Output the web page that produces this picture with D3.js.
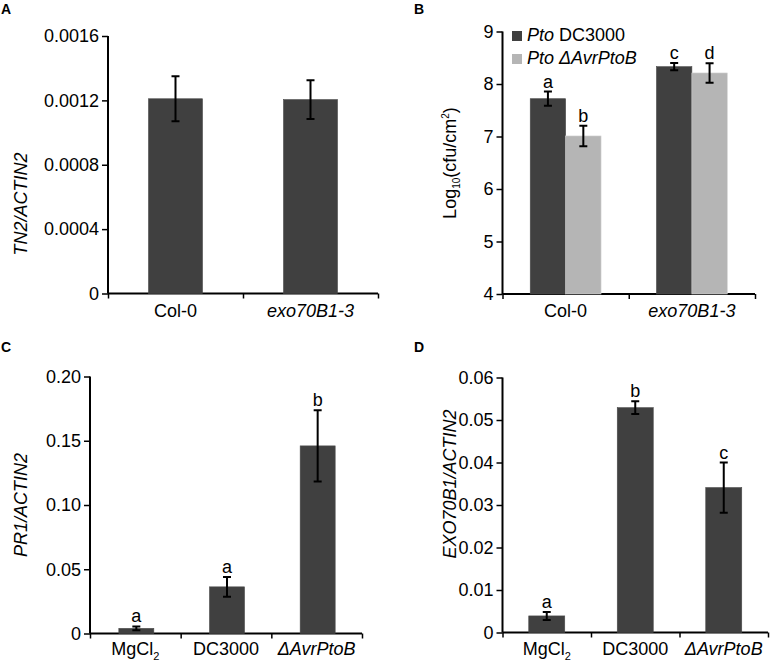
<!DOCTYPE html>
<html><head><meta charset="utf-8">
<script src="https://cdn.jsdelivr.net/npm/d3@7/dist/d3.min.js"></script>
<style>
body{margin:0;background:#fff;}
svg{font-family:"Liberation Sans",Arial,sans-serif;}
</style></head>
<body>
<svg id="c" width="771" height="665"></svg>
<script>
// ---------- DATA ----------
// Panel A
const catsA = ["Col-0", "exo70B1-3"];
const valsA = [0.00121, 0.001205];
const errA  = [0.00014, 0.00012];
const ticksA = [0, 0.0004, 0.0008, 0.0012, 0.0016];
const tickLabelsA = ["0", "0.0004", "0.0008", "0.0012", "0.0016"];
// Panel B
const catsB = ["Col-0", "exo70B1-3"];
const seriesB = ["Pto DC3000", "Pto ΔAvrPtoB"];
const valsB_DC3000 = [7.72, 8.33];
const errB_DC3000  = [0.135, 0.07];
const valsB_dAvr   = [7.01, 8.21];
const errB_dAvr    = [0.195, 0.185];
const lettersB_DC3000 = ["a", "c"];
const lettersB_dAvr   = ["b", "d"];
const ticksB = [4, 5, 6, 7, 8, 9];
// Panel C
const catsC = ["MgCl2", "DC3000", "ΔAvrPtoB"];
const valsC = [0.004, 0.0363, 0.146];
const errC  = [0.0015, 0.0077, 0.0277];
const lettersC = ["a", "a", "b"];
const ticksC = [0, 0.05, 0.10, 0.15, 0.20];
const tickLabelsC = ["0", "0.05", "0.10", "0.15", "0.20"];
// Panel D
const catsD = ["MgCl2", "DC3000", "ΔAvrPtoB"];
const valsD = [0.0039, 0.0529, 0.0341];
const errD  = [0.00095, 0.0015, 0.0059];
const lettersD = ["a", "b", "c"];
const ticksD = [0, 0.01, 0.02, 0.03, 0.04, 0.05, 0.06];
const tickLabelsD = ["0", "0.01", "0.02", "0.03", "0.04", "0.05", "0.06"];

// ---------- DRAWING ----------
const svg = d3.select("#c");
const DARK = "#404040", LIGHT = "#b5b5b5";
const FS = 18;

function catLabel(g, x, y, name) {
  const t = g.append("text").attr("x", x).attr("y", y).attr("text-anchor", "middle")
    .attr("font-size", FS).attr("fill", "#000");
  if (name === "MgCl2") {
    t.append("tspan").text("MgCl");
    t.append("tspan").attr("font-size", 11).attr("dy", 5).text("2");
  } else if (name === "exo70B1-3" || name === "ΔAvrPtoB") {
    t.attr("font-style", "italic").text(name);
  } else t.text(name);
}

function panel(opt) {
  const g = svg.append("g");
  const y = d3.scaleLinear().domain(opt.ydom).range([opt.y0, opt.y1]);
  const x = d3.scaleBand().domain(opt.cats).range([opt.x0, opt.x1]);
  // y axis
  const ya = d3.axisLeft(y).tickValues(opt.ticks).tickSize(6).tickPadding(3)
    .tickFormat((d, i) => opt.tickLabels ? opt.tickLabels[i] : d);
  const yg = g.append("g").attr("transform", `translate(${opt.x0},0)`).call(ya);
  yg.select(".domain").attr("stroke-width", 2).attr("d", `M0,${opt.y1}V${opt.y0}`);
  yg.selectAll(".tick line").attr("stroke-width", 1.5);
  yg.selectAll(".tick text").attr("font-size", FS).attr("font-family", "Liberation Sans, Arial, sans-serif").attr("fill", "#000");
  // x axis with boundary ticks
  const bounds = d3.range(opt.cats.length + 1).map(i => opt.x0 + i * x.step());
  const xl = d3.scaleLinear().domain([opt.x0, opt.x1]).range([opt.x0, opt.x1]);
  const xa = d3.axisBottom(xl).tickValues(bounds).tickSize(5).tickFormat("");
  const xg = g.append("g").attr("transform", `translate(0,${opt.y0})`).call(xa);
  xg.select(".domain").attr("stroke-width", 2).attr("d", `M${opt.x0},0H${opt.x1}`);
  xg.selectAll(".tick line").attr("stroke-width", 1.5);
  opt.cats.forEach(c => catLabel(g, x(c) + x.bandwidth() / 2, opt.labelY, c));
  return {g, x, y};
}

function bars(p, cats, vals, errs, color, xoff, w, letters) {
  const {g, x, y} = p;
  cats.forEach((c, i) => {
    const cx = x(c) + x.bandwidth() / 2 + xoff;
    g.append("rect").attr("x", cx - w / 2).attr("width", w)
      .attr("y", y(vals[i])).attr("height", y.range()[0] - y(vals[i]))
      .attr("fill", color).attr("stroke", d3.color(color).brighter(0.4)).attr("stroke-width", 0.6);
    const hi = y(vals[i] + errs[i]), lo = y(vals[i] - errs[i]);
    g.append("path").attr("d", `M${cx},${hi}V${lo}M${cx - 4},${hi}H${cx + 4}M${cx - 4},${lo}H${cx + 4}`)
      .attr("stroke", "#000").attr("stroke-width", 2).attr("fill", "none");
    if (letters) g.append("text").attr("x", cx).attr("y", hi - 4).attr("text-anchor", "middle")
      .attr("font-size", FS).text(letters[i]);
  });
}

function ylabel(cx, cy, build) {
  const t = svg.append("text").attr("transform", `translate(${cx},${cy}) rotate(-90)`)
    .attr("text-anchor", "middle").attr("font-size", FS).attr("fill", "#000");
  build(t);
}
function panelLetter(x, y, s) {
  svg.append("text").attr("x", x).attr("y", y).attr("font-size", 14).attr("font-weight", "bold").text(s);
}

// Panel A
const pA = panel({cats: catsA, ydom: [0, 0.0016], y0: 293.5, y1: 36, x0: 108, x1: 378,
  ticks: ticksA, tickLabels: tickLabelsA, labelY: 317});
bars(pA, catsA, valsA, errA, DARK, 0, 54, null);
ylabel(27, 204, t => t.attr("font-style", "italic").text("TN2/ACTIN2"));
panelLetter(1, 14, "A");

// Panel B
const pB = panel({cats: catsB, ydom: [4, 9], y0: 294, y1: 31.5, x0: 502.5, x1: 755,
  ticks: ticksB, tickLabels: null, labelY: 317});
bars(pB, catsB, valsB_DC3000, errB_DC3000, DARK, -17.7, 35.4, lettersB_DC3000);
bars(pB, catsB, valsB_dAvr, errB_dAvr, LIGHT, 17.7, 35.4, lettersB_dAvr);
ylabel(456, 163, t => {
  t.append("tspan").text("Log");
  t.append("tspan").attr("font-size", 10).attr("dy", 4).text("10");
  t.append("tspan").attr("dy", -4).text("(cfu/cm");
  t.append("tspan").attr("font-size", 10).attr("dy", -7).text("2");
  t.append("tspan").attr("dy", 7).text(")");
});
panelLetter(414, 14, "B");
// legend
[[seriesB[0], DARK], [seriesB[1], LIGHT]].forEach(([name, col], i) => {
  const ly = 41 + i * 23;
  svg.append("rect").attr("x", 512).attr("y", ly - 10).attr("width", 10).attr("height", 10).attr("fill", col);
  const t = svg.append("text").attr("x", 527).attr("y", ly).attr("font-size", FS);
  const parts = name.split(" ");
  t.append("tspan").attr("font-style", "italic").text(parts[0]);
  t.append("tspan").attr("font-style", i === 1 ? "italic" : "normal").text(" " + parts.slice(1).join(" "));
});

// Panel C
const pC = panel({cats: catsC, ydom: [0, 0.20], y0: 633.5, y1: 376.5, x0: 90, x1: 362,
  ticks: ticksC, tickLabels: tickLabelsC, labelY: 655});
bars(pC, catsC, valsC, errC, DARK, 1, 35, lettersC);
ylabel(27, 505, t => t.attr("font-style", "italic").text("PR1/ACTIN2"));
panelLetter(1, 352, "C");

// Panel D
const pD = panel({cats: catsD, ydom: [0, 0.06], y0: 632.5, y1: 377.5, x0: 502.5, x1: 768,
  ticks: ticksD, tickLabels: tickLabelsD, labelY: 655});
bars(pD, catsD, valsD, errD, DARK, 0, 36, lettersD);
ylabel(456, 484, t => t.attr("font-style", "italic").text("EXO70B1/ACTIN2"));
panelLetter(414, 352, "D");
</script>
</body></html>
